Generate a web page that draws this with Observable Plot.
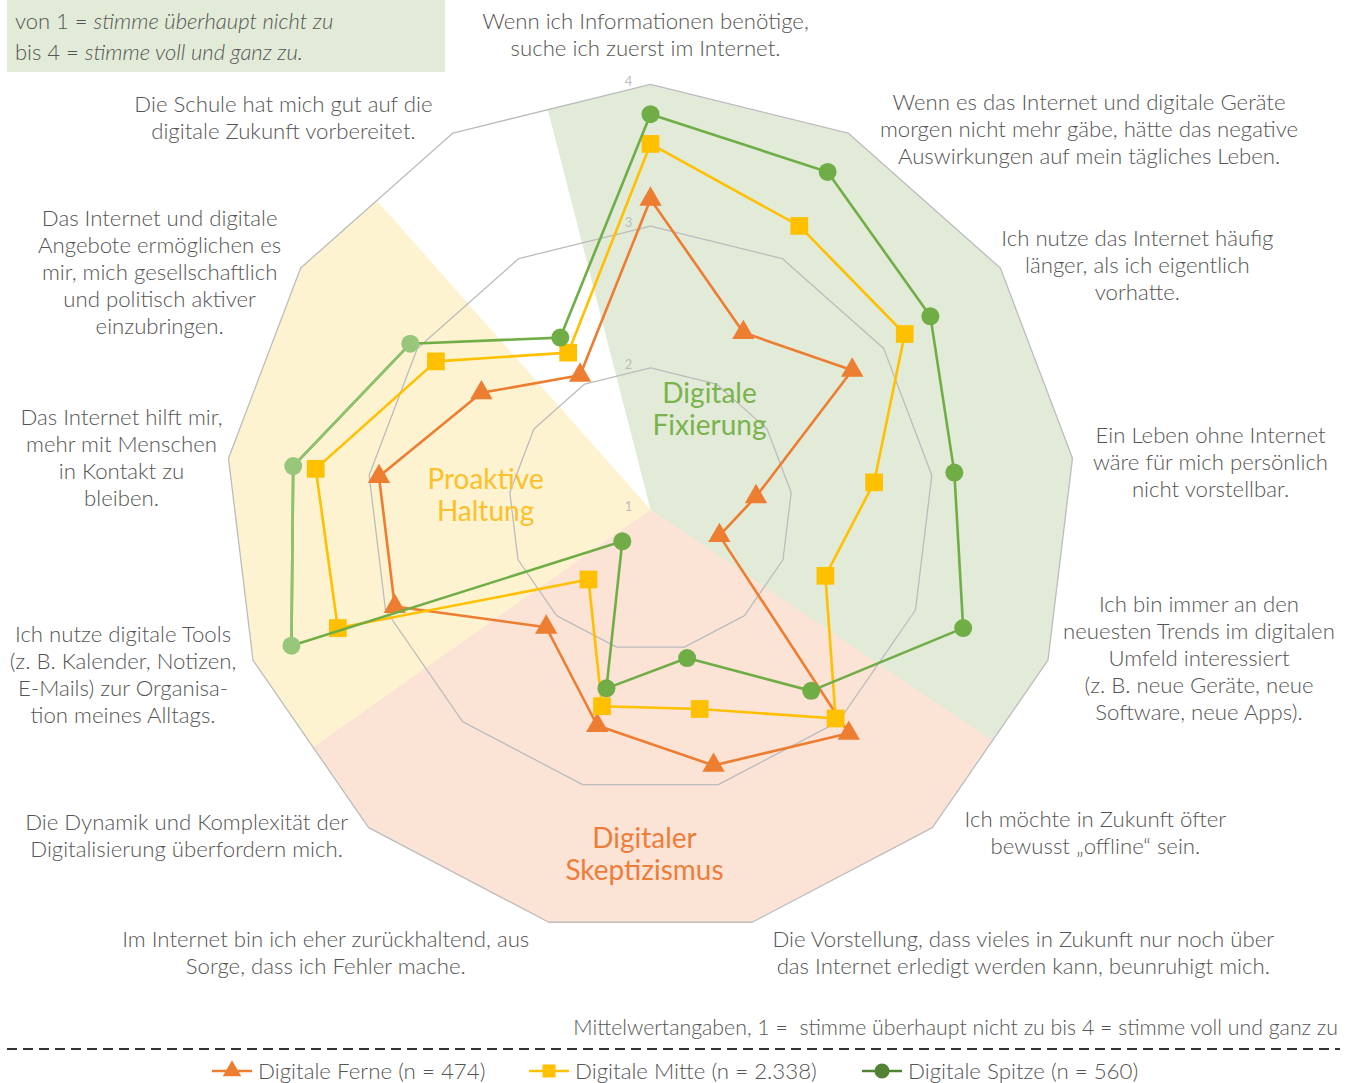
<!DOCTYPE html>
<html>
<head>
<meta charset="utf-8">
<script src="https://cdn.jsdelivr.net/npm/d3@7"></script>
<script src="https://cdn.jsdelivr.net/npm/@observablehq/plot@0.6"></script>
<style>
  html, body { margin: 0; padding: 0; background: #fff; }
  body { width: 1354px; height: 1083px; position: relative; overflow: hidden; font-family: Lato, "Open Sans", sans-serif; color: #555; }
  #chart { position: absolute; left: 0; top: 0; }
  .note { position: absolute; left: 7px; top: 0; width: 438px; height: 72px; background: #e2ebd8; overflow: hidden; }
  .note .inner { position: absolute; left: 8px; top: 5px; font-size: 22px; line-height: 31px; font-weight: 300; color: #555; white-space: nowrap; }
  .caption { position: absolute; right: 16px; top: 1014px; font-size: 21.3px; font-weight: 300; color: #555; white-space: nowrap; }
  .legend { position: absolute; left: 0; top: 1040px; }
</style>
</head>
<body>
<div id="chart"></div>
<div class="note"><div class="inner">von 1 = <i>stimme überhaupt nicht zu</i><br>bis 4 = <i>stimme voll und ganz zu.</i></div></div>
<div class="caption">Mittelwertangaben, 1 =&nbsp; stimme überhaupt nicht zu bis 4 = stimme voll und ganz zu</div>
<svg class="legend" width="1354" height="43" id="legend"></svg>
<script>
// ---------- data ----------
const axisLabels = [
  "Wenn ich Informationen benötige,\nsuche ich zuerst im Internet.",
  "Wenn es das Internet und digitale Geräte\nmorgen nicht mehr gäbe, hätte das negative\nAuswirkungen auf mein tägliches Leben.",
  "Ich nutze das Internet häufig\nlänger, als ich eigentlich\nvorhatte.",
  "Ein Leben ohne Internet\nwäre für mich persönlich\nnicht vorstellbar.",
  "Ich bin immer an den\nneuesten Trends im digitalen\nUmfeld interessiert\n(z. B. neue Geräte, neue\nSoftware, neue Apps).",
  "Ich möchte in Zukunft öfter\nbewusst „offline“ sein.",
  "Die Vorstellung, dass vieles in Zukunft nur noch über\ndas Internet erledigt werden kann, beunruhigt mich.",
  "Im Internet bin ich eher zurückhaltend, aus\nSorge, dass ich Fehler mache.",
  "Die Dynamik und Komplexität der\nDigitalisierung überfordern mich.",
  "Ich nutze digitale Tools\n(z. B. Kalender, Notizen,\nE-Mails) zur Organisa-\ntion meines Alltags.",
  "Das Internet hilft mir,\nmehr mit Menschen\nin Kontakt zu\nbleiben.",
  "Das Internet und digitale\nAngebote ermöglichen es\nmir, mich gesellschaftlich\nund politisch aktiver\neinzubringen.",
  "Die Schule hat mich gut auf die\ndigitale Zukunft vorbereitet."
];
const ferne  = [3.19, 2.41, 2.73, 1.75, 1.52, 3.11, 2.86, 2.57, 2.11, 2.93, 2.93, 2.45, 2.07];
const mitte  = [3.58, 3.26, 3.18, 2.59, 2.32, 2.97, 2.45, 2.43, 1.66, 3.36, 3.38, 2.84, 2.25];
const spitze = [3.79, 3.69, 3.40, 3.16, 3.36, 2.71, 2.08, 2.30, 1.30, 3.71, 3.54, 3.06, 2.37];
const seriesNames = ["Digitale Ferne (n = 474)", "Digitale Mitte (n = 2.338)", "Digitale Spitze (n = 560)"];
const levels = [1, 2, 3, 4];
const sectorNames = ["Digitale\nFixierung", "Digitaler\nSkeptizismus", "Proaktive\nHaltung"];
const sectorAxes = [[0, 4], [5, 8], [9, 11]];

// ---------- layout / style ----------
const W = 1354, H = 1000, CX = 650, CY = 509, U = 141.7; // px per scale unit
const N = axisLabels.length, step = 2 * Math.PI / N;
const seriesColors = ["#ed7d31", "#ffc000", "#70ad47"];
const seriesSymbols = ["triangle", "square", "circle"];
const seriesR = [8.3, 10, 9];
const sectorFill = ["#e2ebd8", "#fbe3d6", "#fdf3d0"];
const sectorText = ["#7ab34d", "#ee7d3a", "#fbc02a"];
// label centre offsets (px) from each outer vertex
const labelOffsets = [[-5,-50.5],[241,-5],[137,-4],[138,3],[151,-3],[163,4],[271,30],[-223,30],[-182,7],[-130,14],[-107,-1],[-141,3.5],[-169.5,-16]];
// sector label centre (polar: angle in axis steps, radius in units)
const sectorLabelPos = [[1.094, 0.826], [6.536, 2.428], [9.938, 1.169]];

const polar = (k, r) => ({x: r * Math.sin(k * step), y: r * Math.cos(k * step)});

// grid polygons
const grid = [];
for (const v of levels.slice(1)) for (let k = 0; k < N; k++) grid.push({level: v, ...polar(k, v - 1)});

// sector polygons
const sectors = [];
const Rmax = levels[levels.length - 1] - 1;
sectorAxes.forEach(([a, b], i) => {
  const pts = [{x: 0, y: 0}, polar(a - 0.52, Rmax * Math.cos(step / 2))];
  for (let k = a; k <= b; k++) pts.push(polar(k, Rmax));
  pts.push(polar(b + 0.5, Rmax * Math.cos(step / 2)));
  pts.forEach(p => sectors.push({sector: i, ...p}));
});

// series rows
const rows = [];
[ferne, mitte, spitze].forEach((vals, s) => vals.forEach((v, k) => rows.push({series: s, k, value: v, ...polar(k, v - 1)})));

const labels = axisLabels.map((t, k) => {
  const p = polar(k, Rmax);
  return {text: t, x: p.x + labelOffsets[k][0] / U, y: p.y - labelOffsets[k][1] / U};
});
const secLabels = sectorNames.map((t, i) => ({text: t, ...polar(sectorLabelPos[i][0], sectorLabelPos[i][1]), i}));

const marks = [];
sectorAxes.forEach((_, i) => {
  marks.push(Plot.line(sectors.filter(d => d.sector === i), {x: "x", y: "y", fill: sectorFill[i], stroke: "none", curve: "linear-closed"}));
});
marks.push(Plot.line(grid, {x: "x", y: "y", z: "level", stroke: "#bcbcbc", strokeWidth: 1.3, curve: "linear-closed"}));
marks.push(Plot.text(levels, {x: 0, y: d => d - 1, text: d => String(d), dx: -22, dy: -3, fill: "#bdbdbd", fontSize: 13}));
marks.push(Plot.text(secLabels, {x: "x", y: "y", text: "text", fill: d => sectorText[d.i], fontSize: 28, lineHeight: 1.14, textAnchor: "middle", lineAnchor: "middle"}));
[0, 1, 2].forEach(s => {
  const d = rows.filter(r => r.series === s);
  marks.push(Plot.line(d, {x: "x", y: "y", stroke: seriesColors[s], strokeWidth: 2.6, curve: "linear-closed"}));
  if (s === 2) marks.push(Plot.line(d.filter(r => r.k >= 9 && r.k <= 11), {x: "x", y: "y", stroke: "#8fc26e", strokeWidth: 2.6}));
  marks.push(Plot.dot(d, {x: "x", y: "y", symbol: seriesSymbols[s], r: seriesR[s], fill: r => (s === 2 && r.k >= 9 && r.k <= 11) ? "#98c77b" : seriesColors[s], stroke: "none"}));
});
marks.push(Plot.text(labels, {x: "x", y: "y", text: "text", fill: "#555", fontSize: 22.2, fontWeight: 300, lineHeight: 1.215, textAnchor: "middle", lineAnchor: "middle"}));

const chart = Plot.plot({
  width: W, height: H,
  margin: 0,
  style: {fontFamily: "Lato, 'Open Sans', sans-serif", background: "transparent"},
  x: {domain: [-CX / U, (W - CX) / U], range: [0, W], axis: null},
  y: {domain: [-(H - CY) / U, CY / U], range: [H, 0], axis: null},
  symbol: {type: "identity"},
  marks
});
document.getElementById("chart").appendChild(chart);

// legend
const lg = d3.select("#legend");
lg.append("line").attr("x1", 7).attr("x2", 1340).attr("y1", 9).attr("y2", 9)
  .attr("stroke", "#333").attr("stroke-width", 2).attr("stroke-dasharray", "10 6");
const legX = [212, 529, 862];
const legColors = ["#ed7d31", "#ffc000", "#548235"];
seriesNames.forEach((name, i) => {
  const g = lg.append("g").attr("transform", `translate(${legX[i]},31)`);
  g.append("line").attr("x1", 0).attr("x2", 40).attr("stroke", legColors[i]).attr("stroke-width", 2.6);
  const sym = [d3.symbolTriangle, d3.symbolSquare, d3.symbolCircle][i];
  const size = [150, 170, 180][i];
  g.append("path").attr("d", d3.symbol(sym, size)()).attr("transform", "translate(20,0)").attr("fill", legColors[i]);
  g.append("text").attr("x", 46).attr("y", 0).attr("dy", "0.35em").attr("font-size", 22.3).attr("font-weight", 300)
    .attr("fill", "#555").attr("font-family", "Lato, sans-serif").text(name);
});
</script>
</body>
</html>
